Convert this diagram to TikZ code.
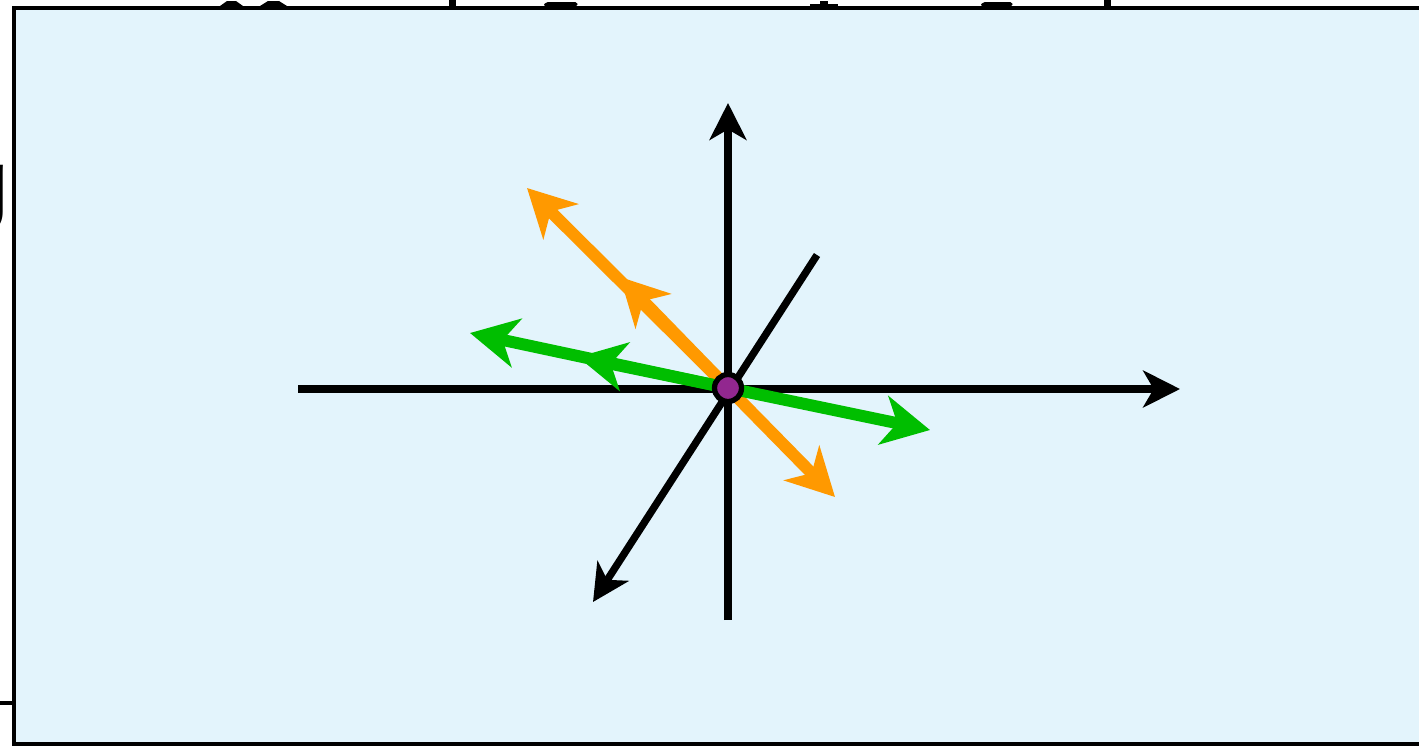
\documentclass[tikz,border=0pt]{standalone}
\usepackage{xcolor}
\usepackage{fontspec}
\newfontfamily\labelfont{Liberation Sans}
\usetikzlibrary{arrows.meta}

\definecolor{paneblue}{RGB}{227,244,252}
\definecolor{vecorange}{RGB}{255,153,0}
\definecolor{vecgreen}{RGB}{0,190,0}
\definecolor{dotpurple}{RGB}{146,39,143}

\tikzset{
  axis/.style={line width=4.2pt,-{Stealth[length=21pt,width=21pt,inset=6pt]}},
  orangevec/.style={vecorange,line width=6.8pt,-{Stealth[length=27pt,width=28pt,inset=8pt]}},
  greenvec/.style={vecgreen,line width=6.8pt,-{Stealth[length=27pt,width=28pt,inset=8pt]}}
}

\begin{document}
\begin{tikzpicture}[x=0.02cm,y=-0.02cm]
\useasboundingbox (0,0) rectangle (1419,745);

% panel
\begin{scope}
  \clip (0,0) rectangle (1419,745);
  \fill[white] (0,0) rectangle (1419,745);
  \draw[line width=2.8pt,fill=paneblue] (14,8) rectangle (1450,744);
  \draw[line width=2.4pt] (0,703) -- (14,703);
\end{scope}

% glyph remnants cut off by the page edge
\fill (220,6) -- (243,6) -- (236,1) -- (227,1) -- cycle;
\fill (260,6) -- (287,6) -- (279,1) -- (268,1) -- cycle;
\fill (449,0) rectangle (456,6);
\fill[rounded corners=1pt] (543,6) -- (578,6) -- (577,2) -- (546,2) -- cycle;
\fill (810,6) rectangle (838,4);
\fill (820,4) rectangle (828,1);
\fill[rounded corners=1pt] (980,6) -- (1013,6) -- (1012,2) -- (983,2) -- cycle;
\fill (1104,0) rectangle (1111,6);
\begin{scope}
  \clip (0,100) rectangle (11,260);
  \node[anchor=east,inner sep=0pt,font=\labelfont\fontsize{52}{52}\selectfont] (gfrag) at (10,198) {g};
\end{scope}

% points
\coordinate (O) at (728,388);
\coordinate (xl) at (298,389);
\coordinate (xr) at (1180,389);
\coordinate (yb) at (728,620);
\coordinate (yt) at (728,103);
\coordinate (zt) at (817,255);
\coordinate (zb) at (593,602);
\coordinate (ov) at (835,497);
\coordinate (om) at (620,277);
\coordinate (ol) at (527,188);
\coordinate (gv) at (930,430);
\coordinate (gm) at (578,357);
\coordinate (gl) at (470,333);

% axes
\draw[axis] (xl) -- (xr);
\draw[axis] (yb) -- (yt);
\draw[axis] (zt) -- (zb);

% vectors
\draw[orangevec] (O) -- (ov);
\draw[orangevec] (O) -- (ol);
\draw[orangevec] (O) -- (om);
\draw[greenvec] (O) -- (gv);
\draw[greenvec] (O) -- (gl);
\draw[greenvec] (O) -- (gm);

\node[circle,draw,line width=3pt,fill=dotpurple,minimum size=0.54cm,inner sep=0pt] (dot) at (O) {};

\end{tikzpicture}
\end{document}
